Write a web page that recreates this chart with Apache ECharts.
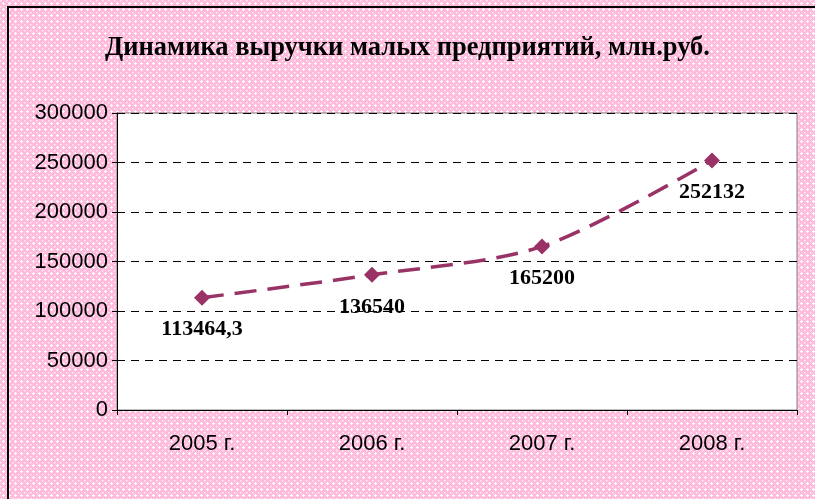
<!DOCTYPE html>
<html>
<head>
<meta charset="utf-8">
<script src="https://cdn.jsdelivr.net/npm/echarts@6/dist/echarts.min.js"></script>
<style>
  html, body { margin: 0; padding: 0; }
  #chart { width: 815px; height: 499px; }
</style>
</head>
<body>
<div id="chart"></div>
<script>
const categories = ['2005 г.', '2006 г.', '2007 г.', '2008 г.'];
const revenue = [113464.3, 136540, 165200, 252132];
const yTicks = [0, 50000, 100000, 150000, 200000, 250000, 300000];

// pink pattern of the chart area
const tile = document.createElement('canvas');
tile.width = 6; tile.height = 6;
const ctx = tile.getContext('2d');
ctx.fillStyle = '#ffbcdc';
ctx.fillRect(0, 0, 6, 6);
ctx.fillStyle = '#ffffff';
[[3, 2], [2, 3], [3, 3], [4, 3], [3, 4]].forEach(p => ctx.fillRect(p[0], p[1], 1, 1));
ctx.fillStyle = '#ffe0ef';
[[0, 0], [1, 0], [0, 1]].forEach(p => ctx.fillRect(p[0], p[1], 1, 1));

const chart = echarts.init(document.getElementById('chart'));
const option = {
    backgroundColor: { image: tile, repeat: 'repeat' },
    animation: false,
    title: {
        text: 'Динамика выручки малых предприятий, млн.руб.',
        left: 'center',
        top: 30,
        textStyle: {
            fontFamily: 'Liberation Serif',
            fontWeight: 'bold',
            fontSize: 26.5,
            color: '#000'
        }
    },
    graphic: [{
        type: 'rect',
        shape: { x: 8, y: 7, width: 900, height: 600 },
        style: { fill: null, stroke: '#000', lineWidth: 2 },
        silent: true
    }],
    grid: {
        left: 117, right: 18, top: 113, bottom: 89,
        show: true,
        backgroundColor: '#fff',
        borderColor: '#808080',
        borderWidth: 1
    },
    xAxis: {
        type: 'category',
        data: categories,
        boundaryGap: true,
        axisLine: { lineStyle: { color: '#000', width: 1 } },
        axisTick: { show: true, length: 5, lineStyle: { color: '#000' } },
        axisLabel: {
            margin: 23,
            fontFamily: 'Liberation Sans',
            fontSize: 22,
            color: '#000'
        }
    },
    yAxis: {
        type: 'value',
        min: yTicks[0],
        max: yTicks[yTicks.length - 1],
        interval: yTicks[1] - yTicks[0],
        axisLine: { show: true, lineStyle: { color: '#000', width: 1 } },
        axisTick: { show: true, length: 5, lineStyle: { color: '#000' } },
        axisLabel: {
            margin: 9,
            fontFamily: 'Liberation Sans',
            fontSize: 22,
            color: '#000',
            formatter: v => String(v)
        },
        splitLine: {
            lineStyle: { color: '#000', type: [8, 6], width: 1 }
        }
    },
    series: [{
        type: 'line',
        data: revenue,
        smooth: 0.3,
        symbol: 'diamond',
        symbolSize: 16,
        itemStyle: { color: '#993366' },
        lineStyle: { color: '#993366', width: 3.5, type: [22, 11] },
        label: {
            show: true,
            position: 'bottom',
            distance: 13,
            fontFamily: 'Liberation Serif',
            fontWeight: 'bold',
            fontSize: 22,
            color: '#000',
            formatter: p => String(p.value).replace('.', ',')
        }
    }]
};
chart.setOption(option);
window.addEventListener('resize', () => chart.resize());
</script>
</body>
</html>
